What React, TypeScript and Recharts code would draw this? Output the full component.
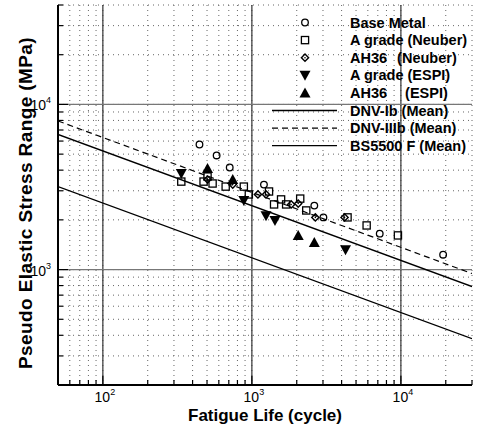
import React from "react";
import {
  ScatterChart, Scatter, XAxis, YAxis, CartesianGrid, ReferenceLine, Legend,
} from "recharts";

// test data (fatigue life N, stress range S in MPa)
const baseMetalN = [445, 580, 710, 1205, 2624, 3020, 7210, 19200];
const baseMetalS = [5720, 4910, 4150, 3270, 2440, 2070, 1650, 1230];

const aGradeNeuberN = [336, 474, 504, 545, 667, 883, 954, 1303, 1409, 1570, 1698, 2110, 2317, 4385, 5890, 9550];
const aGradeNeuberS = [3410, 3410, 3660, 3320, 3180, 3180, 2850, 2970, 2480, 2660, 2480, 2690, 2280, 2070, 1850, 1610];

const ah36NeuberN = [504, 744, 1098, 1244, 1835, 2046, 2666, 4188];
const ah36NeuberS = [3510, 3270, 2850, 2850, 2480, 2510, 2070, 2070];

const aGradeEspiN = [336, 883, 1244, 1429, 4250];
const aGradeEspiS = [3820, 2620, 2120, 1980, 1320];

const ah36EspiN = [504, 744, 2046, 2624];
const ah36EspiS = [4090, 3510, 1610, 1460];

// design curves (end points)
const dnvIbN = [50, 30000];
const dnvIbS = [6580, 789];
const dnvIIIbN = [50, 30000];
const dnvIIIbS = [7940, 946];
const bs5500N = [50, 30000];
const bs5500S = [3180, 382];

const xTicks = [50, 60, 70, 80, 90, 100, 200, 300, 400, 500, 600, 700, 800, 900,
  1000, 2000, 3000, 4000, 5000, 6000, 7000, 8000, 9000, 10000, 20000, 30000];
const yTicks = [200, 300, 400, 500, 600, 700, 800, 900, 1000, 2000, 3000, 4000, 5000,
  6000, 7000, 8000, 9000, 10000, 20000, 30000, 40000];
const decades = [100, 1000, 10000];

const legendNames = [
  ["Base Metal", ""],
  ["A grade", "(Neuber)"],
  ["AH36", "(Neuber)"],
  ["A grade", "(ESPI)"],
  ["AH36", "(ESPI)"],
  ["DNV-Ib", "(Mean)"],
  ["DNV-IIIb", "(Mean)"],
  ["BS5500 F", "(Mean)"],
];

const FONT = "'Liberation Sans', Arial, Helvetica, sans-serif";

const zip = (n: number[], s: number[]) => n.map((v, i) => ({ n: v, s: s[i] }));

const isDecade = (v: number) => decades.includes(v);

// markers
const drawCircle = (cx: number, cy: number) => (
  <circle cx={cx} cy={cy} r={3.3} fill="none" stroke="#000" strokeWidth={1.3} />
);
const drawSquare = (cx: number, cy: number) => (
  <rect x={cx - 3.6} y={cy - 3.6} width={7.2} height={7.2} fill="none" stroke="#000" strokeWidth={1.3} />
);
const drawDiamond = (cx: number, cy: number) => (
  <g>
    <path d={`M${cx},${cy - 3.6}L${cx + 3.6},${cy}L${cx},${cy + 3.6}L${cx - 3.6},${cy}Z`} fill="none" stroke="#000" strokeWidth={1.4} />
    <circle cx={cx} cy={cy} r={0.8} fill="#000" />
  </g>
);
const drawDown = (cx: number, cy: number) => (
  <path d={`M${cx - 5.5},${cy - 4.5}L${cx + 5.5},${cy - 4.5}L${cx},${cy + 5.5}Z`} fill="#000" />
);
const drawUp = (cx: number, cy: number) => (
  <path d={`M${cx - 5.5},${cy + 4.5}L${cx + 5.5},${cy + 4.5}L${cx},${cy - 5.5}Z`} fill="#000" />
);

const markers = [drawCircle, drawSquare, drawDiamond, drawDown, drawUp];

const XTick = (props: any) => {
  const { x, y, payload } = props;
  const v = payload.value;
  const major = isDecade(v);
  return (
    <g>
      <line x1={x} x2={x} y1={y} y2={y - (major ? 9 : 5)} stroke="#000" strokeWidth={1.2} />
      {major && (
        <text x={x + 2} y={y + 17} textAnchor="middle" fontFamily={FONT} fontSize={14} fill="#000">
          10<tspan dy={-7} fontSize={9}>{Math.round(Math.log10(v))}</tspan>
        </text>
      )}
    </g>
  );
};

const YTick = (props: any) => {
  const { x, y, payload } = props;
  const v = payload.value;
  const major = isDecade(v);
  return (
    <g>
      <line x1={x} x2={x + (major ? 10 : 5)} y1={y} y2={y} stroke="#000" strokeWidth={1.2} />
      {major && (
        <text x={x - 7} y={y + 6} textAnchor="end" fontFamily={FONT} fontSize={14} fill="#000">
          10<tspan dy={-7} fontSize={9}>{Math.round(Math.log10(v))}</tspan>
        </text>
      )}
    </g>
  );
};

const LegendBox = () => {
  const top = 22.5;
  const step = 17.6;
  return (
    <svg width={477} height={160} style={{ display: "block" }}>
      {legendNames.map(([a, b], i) => {
        const y = top + i * step;
        let mark: React.ReactNode = null;
        if (i < 5) mark = markers[i](305, y);
        else if (i === 6) mark = <line x1={272} x2={337} y1={y} y2={y} stroke="#000" strokeWidth={1.2} strokeDasharray="6 4" />;
        else mark = <line x1={272} x2={337} y1={y} y2={y} stroke="#000" strokeWidth={1.3} />;
        return (
          <g key={i}>
            {mark}
            <text x={350} y={y + 5} fontFamily={FONT} fontWeight="bold" fontSize={14.5} fill="#000">
              {a}{b ? " " : ""}{b && (a === "AH36" ? <tspan dx={b === "(Neuber)" ? 6 : 14}>{b}</tspan> : b)}
            </text>
          </g>
        );
      })}
    </svg>
  );
};

const YLabel = () => (
  <text transform="translate(32,203) rotate(-90)" textAnchor="middle" fontFamily={FONT}
    fontWeight="bold" fontSize={19} letterSpacing={0.4} fill="#000">
    Pseudo Elastic Stress Range (MPa)
  </text>
);

const XLabel = () => (
  <text x={265} y={421} textAnchor="middle" fontFamily={FONT} fontWeight="bold" fontSize={17} fill="#000">
    Fatigue Life (cycle)
  </text>
);

const noDot = () => <g />;

export default function App() {
  return (
    <div style={{ position: "absolute", left: 0, top: 0, width: 477, height: 424, background: "#fff" }}>
      <ScatterChart width={477} height={424} margin={{ top: 5, right: 5, left: 0, bottom: 0 }}>
        <CartesianGrid stroke="#666" strokeDasharray="1 4" />
        <XAxis
          dataKey="n" type="number" scale="log" domain={[50, 30000]} allowDataOverflow
          ticks={xTicks} interval={0} height={39} tickSize={0} tickMargin={0} tickLine={false}
          axisLine={{ stroke: "#000", strokeWidth: 2 }} tick={<XTick />}
          label={{ content: () => <XLabel /> }}
        />
        <YAxis
          dataKey="s" type="number" scale="log" domain={[200, 40000]} allowDataOverflow
          ticks={yTicks} interval={0} width={58} tickSize={0} tickMargin={0} tickLine={false}
          axisLine={{ stroke: "#000", strokeWidth: 2 }} tick={<YTick />}
          label={{ content: () => <YLabel /> }}
        />
        {decades.map((d) => (
          <ReferenceLine key={`vx${d}`} x={d} stroke="#333" strokeWidth={1.2} />
        ))}
        {decades.slice(1).map((d) => (
          <ReferenceLine key={`hy${d}`} y={d} stroke="#777" strokeWidth={1.3} />
        ))}
        <Scatter name="DNV-Ib (Mean)" data={zip(dnvIbN, dnvIbS)} shape={noDot}
          line={{ stroke: "#000", strokeWidth: 1.3 }} isAnimationActive={false} />
        <Scatter name="DNV-IIIb (Mean)" data={zip(dnvIIIbN, dnvIIIbS)} shape={noDot}
          line={{ stroke: "#000", strokeWidth: 1.2, strokeDasharray: "6 4" }} isAnimationActive={false} />
        <Scatter name="BS5500 F (Mean)" data={zip(bs5500N, bs5500S)} shape={noDot}
          line={{ stroke: "#000", strokeWidth: 1.3 }} isAnimationActive={false} />
        <Scatter name="Base Metal" data={zip(baseMetalN, baseMetalS)}
          shape={(p: any) => drawCircle(p.cx, p.cy)} isAnimationActive={false} />
        <Scatter name="A grade (Neuber)" data={zip(aGradeNeuberN, aGradeNeuberS)}
          shape={(p: any) => drawSquare(p.cx, p.cy)} isAnimationActive={false} />
        <Scatter name="AH36 (Neuber)" data={zip(ah36NeuberN, ah36NeuberS)}
          shape={(p: any) => drawDiamond(p.cx, p.cy)} isAnimationActive={false} />
        <Scatter name="A grade (ESPI)" data={zip(aGradeEspiN, aGradeEspiS)}
          shape={(p: any) => drawDown(p.cx, p.cy)} isAnimationActive={false} />
        <Scatter name="AH36 (ESPI)" data={zip(ah36EspiN, ah36EspiS)}
          shape={(p: any) => drawUp(p.cx, p.cy)} isAnimationActive={false} />
        <Legend
          layout="vertical" align="center" verticalAlign="middle"
          wrapperStyle={{ position: "absolute", left: 0, top: 0, width: 477, height: 160 }}
          content={() => <LegendBox />}
        />
      </ScatterChart>
    </div>
  );
}
